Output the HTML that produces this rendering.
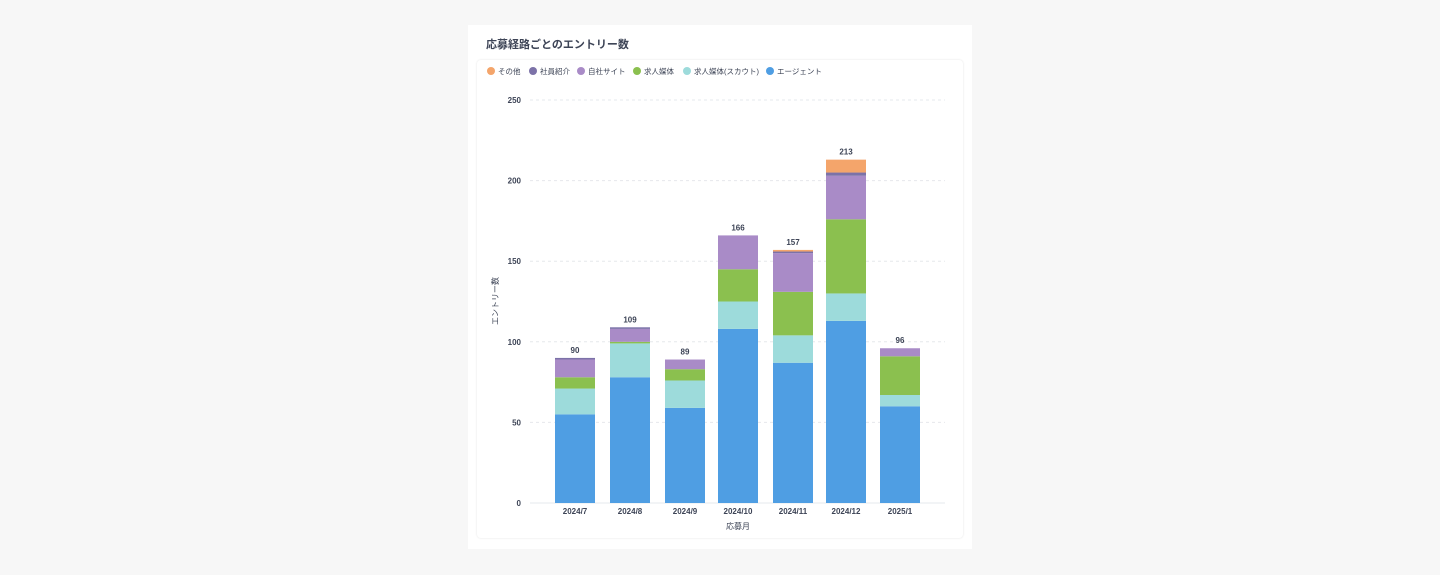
<!DOCTYPE html>
<html><head><meta charset="utf-8"><style>
body{margin:0;background:#f7f7f7;width:1440px;height:575px;overflow:hidden;font-family:"Liberation Sans","Noto Sans CJK JP",sans-serif}
#card{position:absolute;left:468px;top:25px;width:504px;height:524px;background:#fff}
#inner{position:absolute;left:477px;top:60px;width:486px;height:478px;border-radius:4px;box-shadow:0 0 2px rgba(0,0,0,0.12)}
svg{position:absolute;left:0;top:0}
</style></head><body>
<div id="card"></div><div id="inner"></div>
<svg id="s" width="1440" height="575" font-family="Liberation Sans, Noto Sans CJK JP, sans-serif">
<text x="486" y="48" font-size="11" fill="#3d4456" font-weight="bold">応募経路ごとのエントリー数</text>
</svg>
<script>
var s=document.getElementById('s'),h='';
var C=['#4f9ee3','#9ddbdb','#8bc04f','#a98bc7','#7c72a8','#f4a56b'];
var L=[['その他',5,487],['社員紹介',4,529],['自社サイト',3,577],['求人媒体',2,633],['求人媒体(スカウト)',1,683],['エージェント',0,766]];
L.forEach(function(l){h+='<circle cx="'+(l[2]+4)+'" cy="71" r="4" fill="'+C[l[1]]+'"/><text x="'+(l[2]+11)+'" y="74" font-size="7.5" fill="#3d4456">'+l[0]+'</text>';});
function Y(v){return 503-v*1.612;}
for(var i=0;i<=5;i++){var v=i*50,y=Y(v);h+='<line x1="530" x2="945" y1="'+y+'" y2="'+y+'" stroke="#e6e8ec" stroke-width="1" '+(i?'stroke-dasharray="3,3"':'')+'/><text x="521" y="'+(y+3)+'" font-size="8" font-weight="bold" text-anchor="end" fill="#3d4456">'+v+'</text>';}
var D=[[55,16,7,11,1,0],[78,21,1,8,1,0],[59,17,7,6,0,0],[108,17,20,21,0,0],[87,17,27,24,1,1],[113,17,46,27,2,8],[60,7,24,5,0,0]];
var X=[555,610,665,718,773,826,880],N=['2024/7','2024/8','2024/9','2024/10','2024/11','2024/12','2025/1'];
D.forEach(function(d,i){var c=0;d.forEach(function(v,k){if(!v)return;var y1=Y(c),y2=Y(c+v);h+='<rect x="'+X[i]+'" y="'+y2+'" width="40" height="'+(y1-y2)+'" fill="'+C[k]+'"/>';c+=v;});
h+='<text x="'+(X[i]+20)+'" y="'+(Y(c)-5)+'" font-size="8" font-weight="bold" text-anchor="middle" fill="#3d4456">'+c+'</text>';
h+='<text x="'+(X[i]+20)+'" y="514" font-size="8" font-weight="bold" text-anchor="middle" fill="#3d4456">'+N[i]+'</text>';});
h+='<text x="738" y="529" font-size="8" text-anchor="middle" fill="#3d4456">応募月</text>';
h+='<text transform="translate(498,301) rotate(-90)" font-size="8" text-anchor="middle" fill="#3d4456">エントリー数</text>';
s.innerHTML+=h;
</script>
</body></html>
